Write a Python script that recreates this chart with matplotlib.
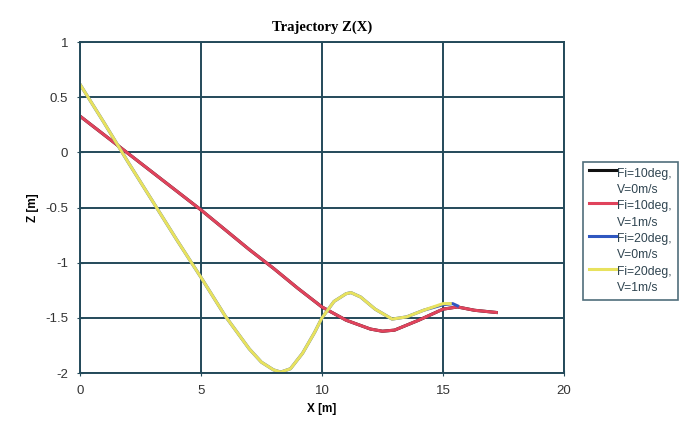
import matplotlib
matplotlib.use("Agg")
import matplotlib.pyplot as plt
from matplotlib.legend_handler import HandlerLine2D

# Fi=10deg, V=0m/s
x_10_0 = [0, 1, 2, 3, 4, 5, 6, 7, 8, 9, 10, 11, 12, 12.5, 13, 14, 15, 15.6, 16.3, 17.2]
z_10_0 = [0.33, 0.16, -0.01, -0.18, -0.35, -0.52, -0.70, -0.88, -1.05, -1.23, -1.40, -1.52, -1.60, -1.62, -1.61, -1.52, -1.42, -1.40, -1.43, -1.45]
# Fi=10deg, V=1m/s
x_10_1 = [0, 1, 2, 3, 4, 5, 6, 7, 8, 9, 10, 11, 12, 12.5, 13, 14, 15, 15.6, 16.3, 17.2]
z_10_1 = [0.33, 0.16, -0.01, -0.18, -0.35, -0.52, -0.70, -0.88, -1.05, -1.23, -1.40, -1.52, -1.60, -1.62, -1.61, -1.52, -1.42, -1.40, -1.43, -1.45]
# Fi=20deg, V=0m/s
x_20_0 = [0, 1, 2, 3, 4, 5, 6, 7, 7.5, 8, 8.3, 8.7, 9.2, 9.7, 10, 10.5, 11, 11.2, 11.6, 12.2, 12.9, 13.5, 14.2, 15.0, 15.4, 15.6]
z_20_0 = [0.62, 0.27, -0.09, -0.44, -0.79, -1.13, -1.48, -1.78, -1.90, -1.97, -1.99, -1.96, -1.82, -1.63, -1.50, -1.35, -1.28, -1.27, -1.31, -1.42, -1.51, -1.49, -1.43, -1.38, -1.37, -1.39]
# Fi=20deg, V=1m/s
x_20_1 = [0, 1, 2, 3, 4, 5, 6, 7, 7.5, 8, 8.3, 8.7, 9.2, 9.7, 10, 10.5, 11, 11.2, 11.6, 12.2, 12.9, 13.5, 14.2, 15.0, 15.3]
z_20_1 = [0.62, 0.27, -0.09, -0.44, -0.79, -1.13, -1.48, -1.78, -1.90, -1.97, -1.99, -1.96, -1.82, -1.63, -1.50, -1.35, -1.28, -1.27, -1.31, -1.42, -1.51, -1.49, -1.43, -1.37, -1.37]

labels = ["Fi=10deg,\nV=0m/s", "Fi=10deg,\nV=1m/s", "Fi=20deg,\nV=0m/s", "Fi=20deg,\nV=1m/s"]
colors = ["#111111", "#e0435c", "#2f57c0", "#e8e25e"]

x_ticks = [0, 5, 10, 15, 20]
y_ticks = [1, 0.5, 0, -0.5, -1, -1.5, -2]
y_ticklabels = ["1", "0.5", "0", "-0.5", "-1", "-1.5", "-2"]


class TopLineHandler(HandlerLine2D):
    def create_artists(self, legend, orig_handle, xdescent, ydescent,
                       width, height, fontsize, trans):
        arts = super().create_artists(legend, orig_handle, xdescent, ydescent,
                                      width, height, fontsize, trans)
        for a in arts:
            try:
                y = a.get_ydata()
                a.set_ydata([v + 0.95 * fontsize for v in y])
            except Exception:
                pass
        return arts


plt.rcParams['font.family'] = ['Liberation Sans', 'DejaVu Sans']
fig = plt.figure(figsize=(6.82, 4.38), dpi=100)
ax = fig.add_axes([0.117, 0.148, 0.710, 0.756])

gridc = "#244a5a"
series = [(x_10_0, z_10_0), (x_10_1, z_10_1), (x_20_0, z_20_0), (x_20_1, z_20_1)]
handles = []
for (xs, zs), c, lab in zip(series, colors, labels):
    h, = ax.plot(xs, zs, color=c, lw=2.2, label=lab, solid_joinstyle='round')
    handles.append(h)

ax.set_xlim(0, 20)
ax.set_ylim(-2, 1)
ax.set_xticks(x_ticks)
ax.set_yticks(y_ticks)
ax.set_yticklabels(y_ticklabels)
ax.grid(True, color=gridc, lw=1.4)
ax.set_axisbelow(True)
for s in ax.spines.values():
    s.set_color(gridc)
    s.set_linewidth(1.4)
ax.tick_params(direction='inout', length=5, color=gridc, labelsize=9.5, labelcolor="#333333", pad=6)

ax.set_title("Trajectory Z(X)", fontfamily="Liberation Serif", fontweight="bold", fontsize=10.5, pad=8)
ax.set_xlabel("X [m]", fontweight="bold", fontsize=8.5)
ax.set_ylabel("Z [m]", fontweight="bold", fontsize=8.5, labelpad=4)

leg = fig.legend(handles=handles, labels=labels, loc="upper left",
                 bbox_to_anchor=(0.846, 0.645), fontsize=8.7, frameon=True,
                 fancybox=False, edgecolor=gridc, handlelength=2.2,
                 handletextpad=0.15, borderpad=0.5, labelspacing=0.4,
                 handler_map={h: TopLineHandler() for h in handles})
leg.get_frame().set_linewidth(1.2)
for t in leg.get_texts():
    t.set_color("#2f4450")
    t.set_linespacing(1.45)

fig.savefig("out.png", dpi=100)
